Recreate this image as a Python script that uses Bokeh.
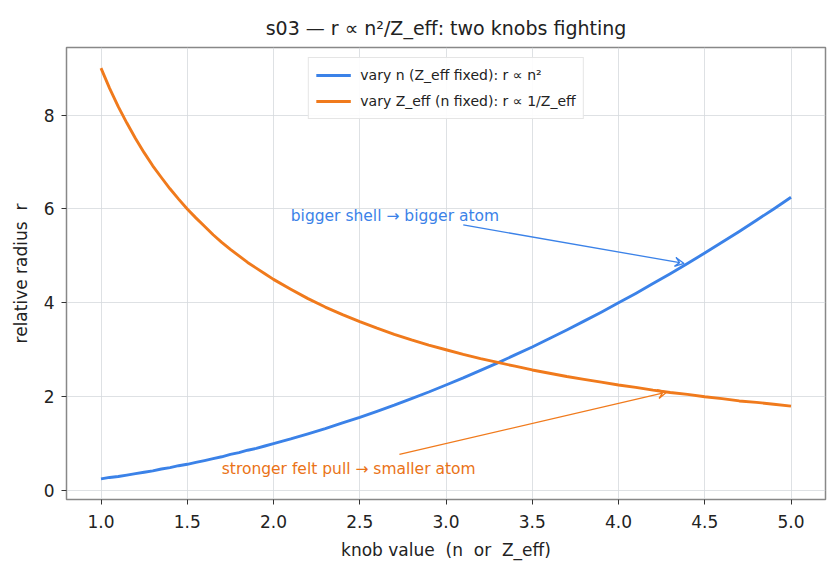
from bokeh.plotting import figure
from bokeh.models import Arrow, VeeHead, Label, Range1d, FixedTicker, NumeralTickFormatter, Legend, LegendItem
from bokeh.embed import file_html
from bokeh.resources import INLINE

# knob values
knob = [1.0, 1.05, 1.1, 1.15, 1.2, 1.25, 1.3, 1.35, 1.4, 1.45, 1.5, 1.55, 1.6, 1.65,
        1.7, 1.75, 1.8, 1.85, 1.9, 1.95,
        2.0, 2.1, 2.2, 2.3, 2.4, 2.5, 2.6, 2.7, 2.8, 2.9,
        3.0, 3.1, 3.2, 3.3, 3.4, 3.5, 3.6, 3.7, 3.8, 3.9,
        4.0, 4.1, 4.2, 4.3, 4.4, 4.5, 4.6, 4.7, 4.8, 4.9, 5.0]
# vary n (Z_eff fixed)
r_vary_n = [0.25, 0.28, 0.30, 0.33, 0.36, 0.39, 0.42, 0.46, 0.49, 0.53, 0.56, 0.60, 0.64, 0.68,
            0.72, 0.77, 0.81, 0.86, 0.90, 0.95,
            1.00, 1.10, 1.21, 1.32, 1.44, 1.56, 1.69, 1.82, 1.96, 2.10,
            2.25, 2.40, 2.56, 2.72, 2.89, 3.06, 3.24, 3.42, 3.61, 3.80,
            4.00, 4.20, 4.41, 4.62, 4.84, 5.06, 5.29, 5.52, 5.76, 6.00, 6.25]
# vary Z_eff (n fixed)
r_vary_z = [9.00, 8.57, 8.18, 7.83, 7.50, 7.20, 6.92, 6.67, 6.43, 6.21, 6.00, 5.81, 5.63, 5.45,
            5.29, 5.14, 5.00, 4.86, 4.74, 4.62,
            4.50, 4.29, 4.09, 3.91, 3.75, 3.60, 3.46, 3.33, 3.21, 3.10,
            3.00, 2.90, 2.81, 2.73, 2.65, 2.57, 2.50, 2.43, 2.37, 2.31,
            2.25, 2.20, 2.14, 2.09, 2.05, 2.00, 1.96, 1.91, 1.88, 1.84, 1.80]

x_ticks = [1.0, 1.5, 2.0, 2.5, 3.0, 3.5, 4.0, 4.5, 5.0]
y_ticks = [0, 2, 4, 6, 8]

legend_labels = ["vary n (Z_eff fixed): r ∝ n²", "vary Z_eff (n fixed): r ∝ 1/Z_eff"]

note_texts = ["bigger shell → bigger atom", "stronger felt pull → smaller atom"]
note_text_pos = [(2.1, 5.85), (1.7, 0.45)]
note_arrow_tail = [(3.10, 5.66), (2.73, 0.77)]
note_arrow_head = [(4.38, 4.84), (4.28, 2.10)]

BLUE = "#3b82e8"
ORANGE = "#f07a1c"
BLUE_TXT = "#3b82e8"
ORANGE_TXT = "#ea7317"
FONT = "DejaVu Sans"
NB = "\u00a0"

p = figure(width=840, height=575, output_backend="svg", toolbar_location=None,
           x_range=Range1d(0.8, 5.2), y_range=Range1d(-0.19, 9.44),
           title="s03 — r ∝ n²/Z_eff: two knobs fighting")
p.min_border_left = 66
p.min_border_right = 15
p.min_border_top = 47
p.min_border_bottom = 76
p.background_fill_color = "white"
p.border_fill_color = "white"
p.outline_line_color = "#888888"
p.outline_line_width = 1.5

p.title.align = "center"
p.title.text_font = FONT
p.title.text_font_size = "19px"
p.title.text_font_style = "normal"
p.title.text_color = "#222222"
p.title.standoff = 18

r1 = p.line(knob, r_vary_n, line_color=BLUE, line_width=2.9, line_join="round")
r2 = p.line(knob, r_vary_z, line_color=ORANGE, line_width=2.9, line_join="round")

legend = Legend(items=[LegendItem(label=legend_labels[0], renderers=[r1]),
                       LegendItem(label=legend_labels[1], renderers=[r2])],
                location="top_center")
legend.label_text_font = FONT
legend.label_text_font_size = "14px"
legend.label_text_color = "#222222"
legend.border_line_color = "#cccccc"
legend.border_line_width = 1
legend.background_fill_alpha = 0.9
legend.glyph_width = 35
legend.glyph_height = 20
legend.label_height = 20
legend.spacing = 6
legend.padding = 7
legend.margin = 10
legend.label_standoff = 10
p.add_layout(legend)

for ax in (p.xaxis, p.yaxis):
    ax.axis_line_color = None
    ax.major_tick_line_color = "#333333"
    ax.major_tick_line_width = 1
    ax.major_tick_out = 5
    ax.major_tick_in = 0
    ax.minor_tick_line_color = None
    ax.major_label_text_font = FONT
    ax.major_label_text_font_size = "17px"
    ax.major_label_text_color = "#222222"
    ax.axis_label_text_font = FONT
    ax.axis_label_text_font_size = "17px"
    ax.axis_label_text_font_style = "normal"
    ax.axis_label_text_color = "#222222"

p.xaxis.major_label_standoff = 10
p.yaxis.major_label_standoff = 7
p.xaxis.ticker = FixedTicker(ticks=x_ticks)
p.xaxis.formatter = NumeralTickFormatter(format="0.0")
p.yaxis.ticker = FixedTicker(ticks=y_ticks)
p.xaxis.axis_label = "knob value" + NB + NB + "(n" + NB + NB + "or" + NB + NB + "Z_eff)"
p.yaxis.axis_label = "relative radius" + NB + NB + "r"
p.xaxis.axis_label_standoff = 9
p.yaxis.axis_label_standoff = 10

p.grid.grid_line_color = "#d5d9dd"
p.grid.grid_line_width = 0.8

colors_line = [BLUE, ORANGE]
colors_txt = [BLUE_TXT, ORANGE_TXT]
for i in range(2):
    (tx, ty) = note_arrow_tail[i]
    (hx, hy) = note_arrow_head[i]
    p.add_layout(Arrow(x_start=tx, y_start=ty, x_end=hx, y_end=hy,
                       line_color=colors_line[i], line_width=1.3,
                       end=VeeHead(size=9, line_color=colors_line[i], line_width=1.3,
                                   fill_color=None)))
    lx, ly = note_text_pos[i]
    p.add_layout(Label(x=lx, y=ly, text=note_texts[i], text_font=FONT,
                       text_font_size="15.5px", text_color=colors_txt[i],
                       text_baseline="alphabetic", text_align="left"))

open("out.html", "w").write(file_html(p, INLINE))
